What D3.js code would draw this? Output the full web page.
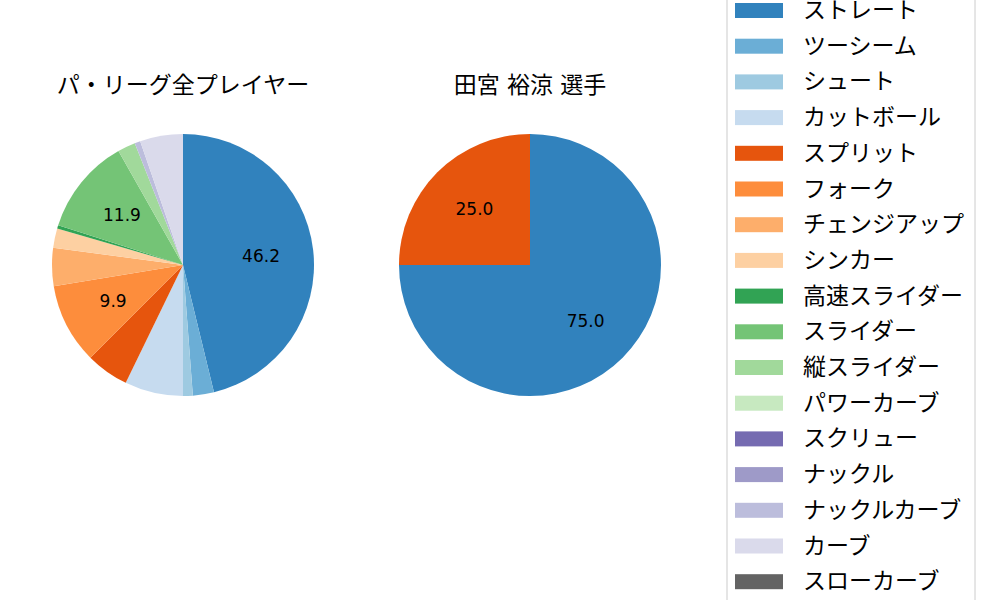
<!DOCTYPE html>
<html><head><meta charset="utf-8">
<script src="https://cdn.jsdelivr.net/npm/d3@7"></script>
<style>body{margin:0;background:#fff}text{font-family:"DejaVu Sans","Noto Sans CJK JP",sans-serif}</style>
</head><body><div id="chart"></div>
<script>
const pitchTypes = ["ストレート","ツーシーム","シュート","カットボール","スプリット","フォーク","チェンジアップ","シンカー","高速スライダー","スライダー","縦スライダー","パワーカーブ","スクリュー","ナックル","ナックルカーブ","カーブ","スローカーブ"];
const colors = ["#3182bd","#6baed6","#9ecae1","#c6dbef","#e6550d","#fd8d3c","#fdae6b","#fdd0a2","#31a354","#74c476","#a1d99b","#c7e9c0","#756bb1","#9e9ac8","#bcbddc","#dadaeb","#636363"];
const leagueValues = [46.2,2.6,1.2,7.2,5.3,9.9,4.7,2.4,0.4,11.9,2.2,0,0,0,0.7,5.3,0];
const playerValues = [75.0,0,0,0,25.0,0,0,0,0,0,0,0,0,0,0,0,0];
const titles = ["パ・リーグ全プレイヤー","田宮 裕涼  選手"];

const svg = d3.select("#chart").append("svg").attr("width",1000).attr("height",600);
const r = 131;
const pie = d3.pie().sort(null).value(d => d.v);
const arc = d3.arc().innerRadius(0).outerRadius(r);
const labelArc = d3.arc().innerRadius(r*0.6).outerRadius(r*0.6);

[[leagueValues,183],[playerValues,530]].forEach(([vals,cx],k) => {
  const g = svg.append("g").attr("transform",`translate(${cx},265)`);
  const data = pie(vals.map((v,i) => ({v,i})));
  g.selectAll("path").data(data.filter(d => d.data.v > 0)).enter().append("path")
    .attr("d",arc).attr("fill",d => colors[d.data.i]);
  g.selectAll("text.l").data(data.filter(d => d.data.v >= 9)).enter().append("text")
    .attr("transform",d => `translate(${labelArc.centroid(d)})`)
    .attr("text-anchor","middle").attr("dy","0.35em").attr("font-size",17)
    .text(d => d.data.v.toFixed(1));
  svg.append("text").attr("x",cx).attr("y",93).attr("text-anchor","middle")
    .attr("font-size",23).text(titles[k]);
});

const lg = svg.append("g");
lg.append("rect").attr("x",727).attr("y",-10).attr("width",248).attr("height",620)
  .attr("fill","#fff").attr("stroke","#ccc");
pitchTypes.forEach((p,i) => {
  const y = 10 + i*35.7;
  lg.append("rect").attr("x",735).attr("y",y-7).attr("width",48).attr("height",15).attr("fill",colors[i]);
  lg.append("text").attr("x",803).attr("y",y).attr("dy","0.35em").attr("font-size",23).text(p);
});
</script></body></html>
